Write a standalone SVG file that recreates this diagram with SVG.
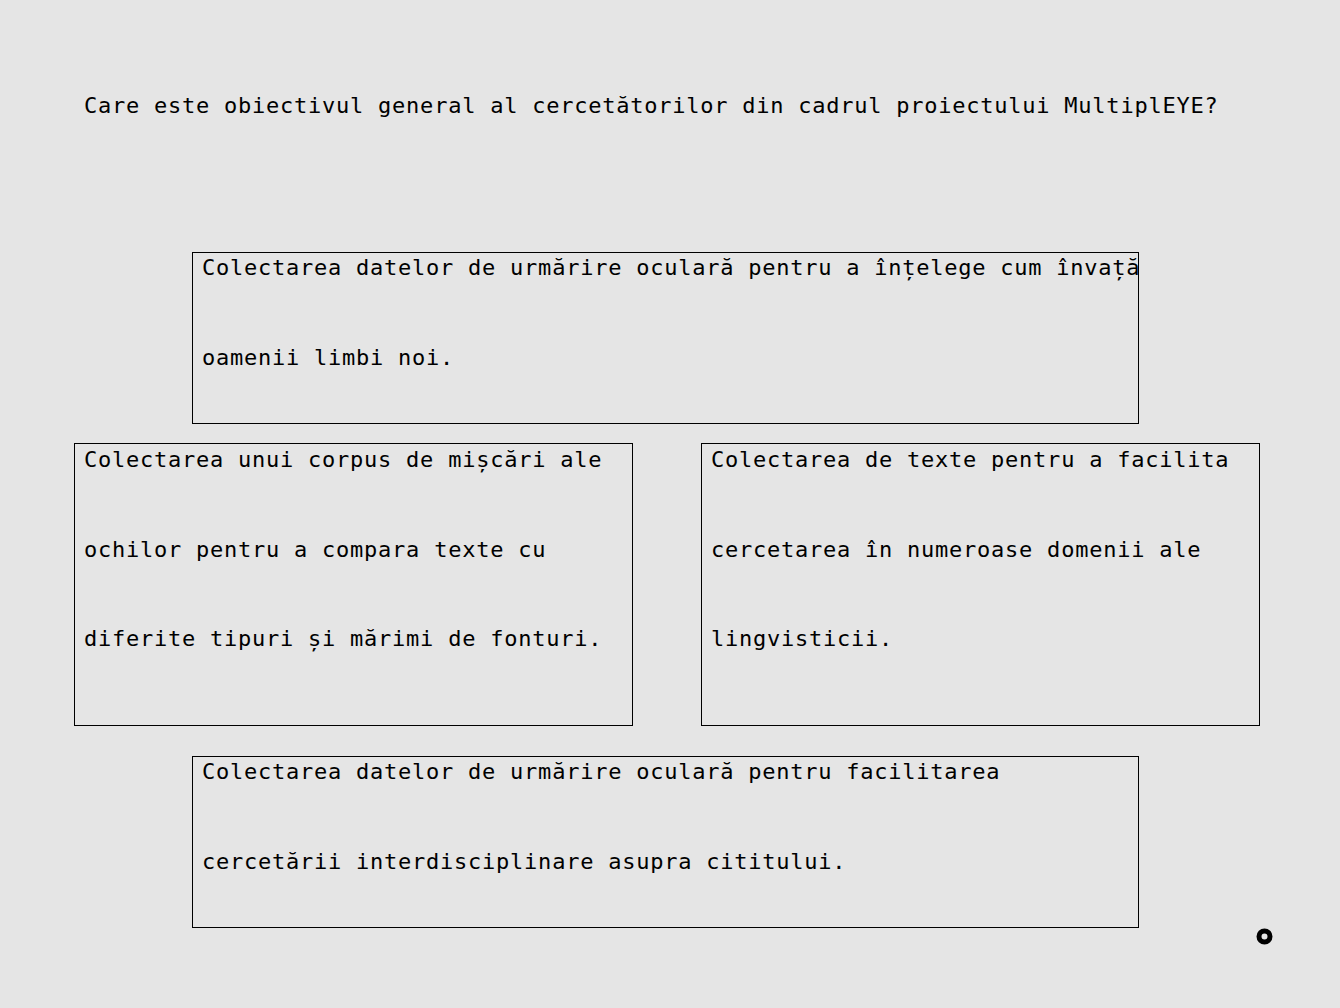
<svg xmlns="http://www.w3.org/2000/svg" width="1340" height="1008" viewBox="0 0 1340 1008">
<style>
.t{font-family:"DejaVu Sans Mono","Liberation Mono",monospace;font-size:22px;letter-spacing:0.76px;fill:#000}
.b{fill:none;stroke:#000;stroke-width:1}
</style>
<rect x="0" y="0" width="1340" height="1008" fill="#e5e5e5"/>
<text class="t" x="84" y="113">Care este obiectivul general al cercetătorilor din cadrul proiectului MultiplEYE?</text>
<g id="node1">
<rect class="b" x="192.5" y="252.5" width="946" height="171"/>
<text class="t" x="202" y="275">Colectarea datelor de urmărire oculară pentru a înțelege cum învață</text>
<text class="t" x="202" y="365">oamenii limbi noi.</text>
</g>
<g id="node2">
<rect class="b" x="74.5" y="443.5" width="558" height="282"/>
<text class="t" x="84" y="467">Colectarea unui corpus de mișcări ale</text>
<text class="t" x="84" y="557">ochilor pentru a compara texte cu</text>
<text class="t" x="84" y="646">diferite tipuri și mărimi de fonturi.</text>
</g>
<g id="node3">
<rect class="b" x="701.5" y="443.5" width="558" height="282"/>
<text class="t" x="711" y="467">Colectarea de texte pentru a facilita</text>
<text class="t" x="711" y="557">cercetarea în numeroase domenii ale</text>
<text class="t" x="711" y="646">lingvisticii.</text>
</g>
<g id="node4">
<rect class="b" x="192.5" y="756.5" width="946" height="171"/>
<text class="t" x="202" y="779">Colectarea datelor de urmărire oculară pentru facilitarea</text>
<text class="t" x="202" y="869">cercetării interdisciplinare asupra cititului.</text>
</g>
<g id="connectors"></g>
<circle cx="1264.5" cy="936.5" r="5.5" fill="none" stroke="#000" stroke-width="5"/>
</svg>
